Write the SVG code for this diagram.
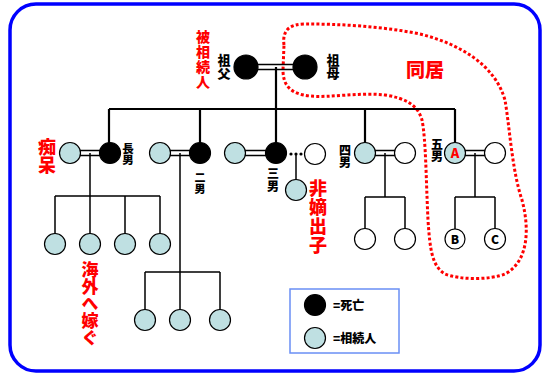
<svg xmlns="http://www.w3.org/2000/svg" width="546" height="376" viewBox="0 0 546 376">
<style>
.t{font-family:"Noto Sans CJK JP","Noto Sans CJK SC",sans-serif;font-weight:900;text-anchor:middle}
.v{writing-mode:vertical-rl}
.k{fill:#000}
.r{fill:#ff0000}
.dead{fill:#000;stroke:#000;stroke-width:1.2}
.heir{fill:#bfe0e2;stroke:#000;stroke-width:1.2}
.alive{fill:#fff;stroke:#000;stroke-width:1.2}
.main{stroke:#000;stroke-width:2.2;fill:none}
.thin{stroke:#000;stroke-width:1.5;fill:none}
.dbl{stroke:#000;stroke-width:1.4;fill:none}
</style>
<rect x="10" y="4" width="530" height="367" rx="26" ry="26" fill="#fff" stroke="#0000ff" stroke-width="3.5"/>
<path d="M284,45 C282,30 290,24 305,24 C340,24 380,26 420,34 C460,44 495,65 505,100 C510,130 512,170 522,200 C530,230 528,262 505,274 C490,280 460,280 445,274 C432,266 430,250 428,220 C426,180 426,140 422,120 C418,105 405,98 385,95 C360,92 330,98 310,96 C290,94 283,85 283,70 Z" fill="none" stroke="#ff0000" stroke-width="3" stroke-dasharray="3 2.2"/>
<g id="connectors">
<path class="dbl" d="M246,64.5 H305 M246,69.5 H305"/>
<path class="main" d="M276,67 V109 M109,109 H455 M109,109 V153 M200,109 V153 M276,109 V153 M365,109 V153 M455,109 V153"/>
<path class="dbl" d="M70,150.5 H110 M70,155.5 H110"/>
<path class="thin" d="M90,153 V196 M55,196 H160 M55,196 V244 M90,196 V244 M125,196 V244 M160,196 V244"/>
<path class="dbl" d="M160,150.5 H200 M160,155.5 H200"/>
<path class="thin" d="M180,153 V272 M145,272 H220 M145,272 V320 M180,272 V320 M220,272 V320"/>
<path class="dbl" d="M235,150.5 H276 M235,155.5 H276"/>
<circle cx="291" cy="154" r="1.6" fill="#000"/>
<circle cx="296" cy="154" r="1.6" fill="#000"/>
<circle cx="301" cy="154" r="1.6" fill="#000"/>
<path class="thin" d="M296,154 V190"/>
<path class="dbl" d="M365,150.5 H405 M365,155.5 H405"/>
<path class="thin" d="M385,153 V197 M365,197 H405 M365,197 V239 M405,197 V239"/>
<path class="dbl" d="M455,150.5 H495 M455,155.5 H495"/>
<path class="thin" d="M475,153 V197 M455,197 H495 M455,197 V239 M495,197 V239"/>
</g>
<g id="grandfather"><circle class="dead" cx="246" cy="67" r="12"/><text class="t v k" x="224" y="67" font-size="13">祖父</text></g>
<g id="grandmother"><circle class="dead" cx="305" cy="67" r="12"/><text class="t v k" x="333" y="67" font-size="13">祖母</text></g>
<g id="label-hisozokunin"><text class="t v r" x="203" y="60" font-size="14" letter-spacing="1">被相続人</text></g>
<g id="label-dokyo"><text class="t r" x="425" y="77" font-size="19">同居</text></g>
<g id="wife1"><circle class="heir" cx="70" cy="153" r="10.5"/><text class="t v r" x="47" y="156" font-size="18">痴呆</text></g>
<g id="son1"><circle class="dead" cx="110" cy="153" r="10.5"/><text class="t v k" x="128" y="154" font-size="11.5">長男</text></g>
<g id="wife2"><circle class="heir" cx="160" cy="153" r="10.5"/></g>
<g id="son2"><circle class="dead" cx="200" cy="153" r="10.5"/><text class="t v k" x="200" y="183" font-size="11">二男</text></g>
<g id="wife3"><circle class="heir" cx="235" cy="153" r="10.5"/></g>
<g id="son3"><circle class="dead" cx="276" cy="153" r="10.5"/><text class="t v k" x="273" y="180" font-size="12" letter-spacing="1">三男</text></g>
<g id="partner3"><circle class="alive" cx="315" cy="154" r="10.5"/></g>
<g id="illegit"><circle class="heir" cx="296" cy="190" r="10.5"/><text class="t v r" x="318" y="217" font-size="18" letter-spacing="1">非嫡出子</text></g>
<g id="son4"><circle class="heir" cx="365" cy="153" r="10.5"/><text class="t v k" x="345" y="156" font-size="12">四男</text></g>
<g id="wife4"><circle class="alive" cx="405" cy="153" r="10.5"/></g>
<g id="son5"><circle class="heir" cx="455" cy="153" r="10.5" stroke-width="2.6"/><text class="t r" x="455" y="158" font-size="13">A</text><text class="t v k" x="437" y="150" font-size="12">五男</text></g>
<g id="wife5"><circle class="alive" cx="495" cy="153" r="10.5"/></g>
<g id="gc1a"><circle class="heir" cx="55" cy="244" r="10.5"/></g>
<g id="gc1b"><circle class="heir" cx="90" cy="244" r="10.5"/></g>
<g id="gc1c"><circle class="heir" cx="125" cy="244" r="10.5"/></g>
<g id="gc1d"><circle class="heir" cx="160" cy="244" r="10.5"/></g>
<g id="label-kaigai"><text class="t v r" x="90" y="304" font-size="17">海外へ嫁ぐ</text></g>
<g id="gc2a"><circle class="heir" cx="145" cy="320" r="10.5"/></g>
<g id="gc2b"><circle class="heir" cx="180" cy="320" r="10.5"/></g>
<g id="gc2c"><circle class="heir" cx="220" cy="320" r="10.5"/></g>
<g id="gc4a"><circle class="alive" cx="365" cy="239" r="10.5"/></g>
<g id="gc4b"><circle class="alive" cx="405" cy="239" r="10.5"/></g>
<g id="gcB"><circle class="alive" cx="455" cy="239" r="10" stroke-width="3"/><text class="t k" x="455" y="244" font-size="12">B</text></g>
<g id="gcC"><circle class="alive" cx="495" cy="239" r="10.5"/><text class="t k" x="495" y="244" font-size="12">C</text></g>
<g id="legend">
<rect x="290" y="289" width="109" height="64" fill="#fff" stroke="#6a8ff5" stroke-width="1.5"/>
<circle class="dead" cx="315" cy="305" r="10.5"/>
<text class="t k" x="333" y="310" font-size="12" style="text-anchor:start">=死亡</text>
<circle class="heir" cx="315" cy="338" r="10.5"/>
<text class="t k" x="333" y="343" font-size="12" style="text-anchor:start">=相続人</text>
</g>
</svg>
